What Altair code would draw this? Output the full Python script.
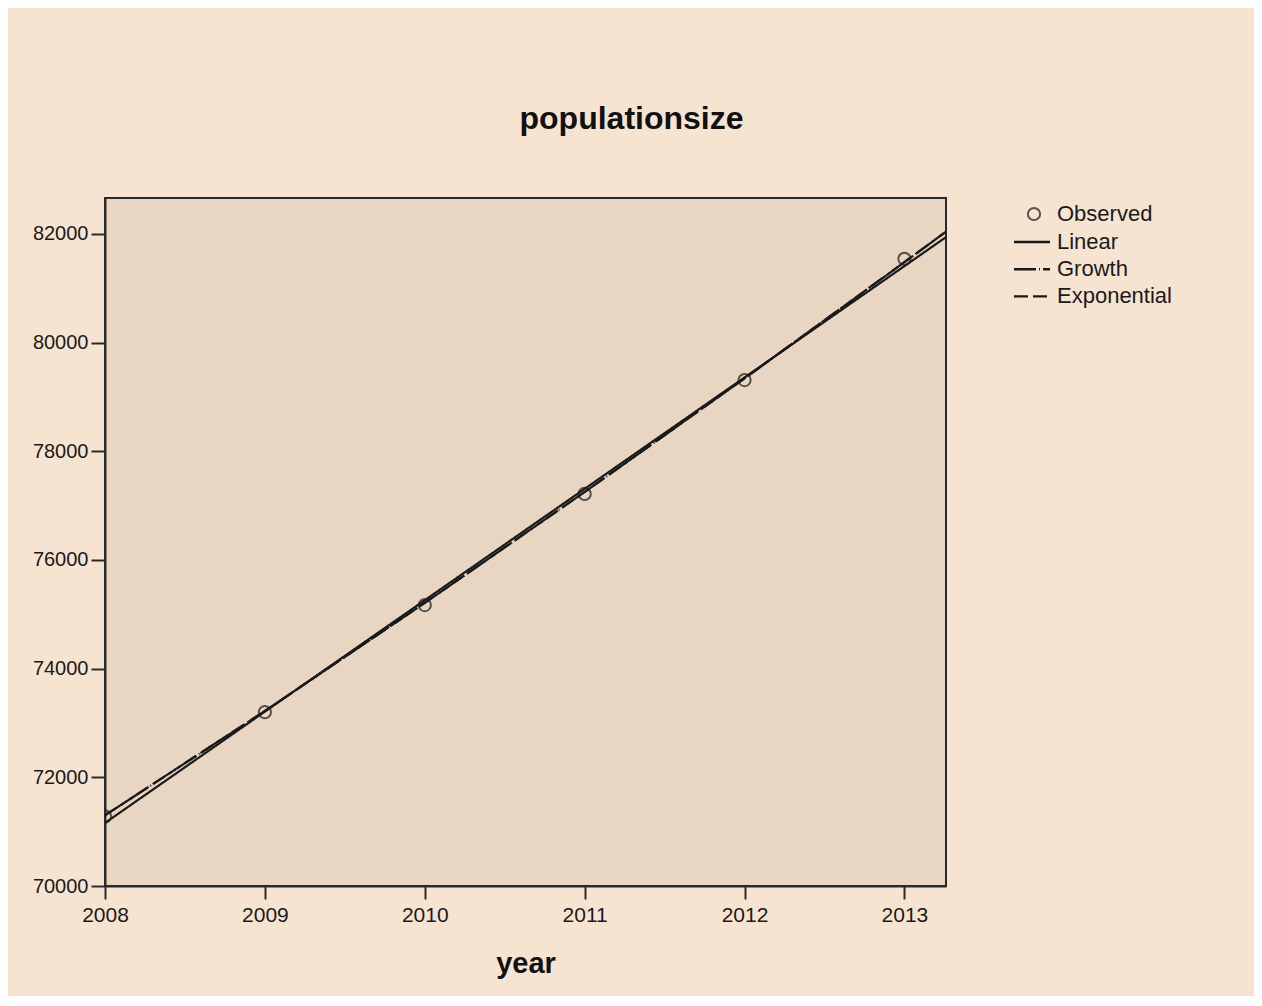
import altair as alt
import pandas as pd

# Observed values
years = [2008, 2009, 2010, 2011, 2012, 2013]
observed = [71280, 73200, 75170, 77215, 79310, 81540]

# Fitted curves
linear_x = [2008, 2013.26]
linear_y = [71160, 81940]
growth_x = [2008, 2009, 2010, 2011, 2012, 2013, 2013.26]
growth_y = [71300, 73220, 75210, 77250, 79340, 81480, 82040]
expo_x = growth_x
expo_y = growth_y

x_ticks = [2008, 2009, 2010, 2011, 2012, 2013]
y_ticks = [70000, 72000, 74000, 76000, 78000, 80000, 82000]

obs_df = pd.DataFrame({"year": years, "value": observed, "series": ["Observed"] * len(years)})
fit_rows = []
for name, xs, ys in [("Linear", linear_x, linear_y), ("Growth", growth_x, growth_y), ("Exponential", expo_x, expo_y)]:
    for x, y in zip(xs, ys):
        fit_rows.append({"year": x, "value": y, "series": name})
fit_df = pd.DataFrame(fit_rows)

FONT = "Liberation Sans"
INK = "#1a1a1a"

xscale = alt.Scale(domain=[2008, 2013.26], nice=False, zero=False)
yscale = alt.Scale(domain=[70000, 82660], nice=False, zero=False)

xaxis = alt.Axis(values=x_ticks, format="d", title="year", grid=False,
                 labelFontSize=21, labelColor=INK, labelFont=FONT, labelPadding=5,
                 tickSize=13, tickWidth=2, tickColor="#2a2a2a",
                 domainColor="#2a2a2a", domainWidth=2,
                 titleFontSize=29, titleFont=FONT, titleFontWeight="bold", titleColor="#111111",
                 titlePadding=24, labelFlush=False)
yaxis = alt.Axis(values=y_ticks, format="d", title=None, grid=False,
                 labelFontSize=20, labelColor=INK, labelFont=FONT, labelPadding=3,
                 tickSize=14, tickWidth=2, tickColor="#2a2a2a",
                 domainColor="#2a2a2a", domainWidth=2, labelFlush=False)

lines = alt.Chart(fit_df).mark_line(color=INK, strokeWidth=2.2, clip=True).encode(
    x=alt.X("year:Q", scale=xscale, axis=xaxis),
    y=alt.Y("value:Q", scale=yscale, axis=yaxis),
    strokeDash=alt.StrokeDash(
        "series:N",
        scale=alt.Scale(domain=["Linear", "Growth", "Exponential"],
                        range=[[1, 0], [22, 3, 1, 3], [14, 5]]),
        legend=alt.Legend(title=None, orient="none", legendX=916, legendY=33,
                          symbolType="M-2,0H2", symbolSize=324, symbolStrokeWidth=2.4,
                          symbolStrokeColor=INK, symbolFillColor="transparent",
                          labelFontSize=22, labelFont=FONT,
                          labelColor=INK, labelOffset=14, rowPadding=5.2, padding=0),
    ),
    detail="series:N",
)

points = alt.Chart(obs_df).mark_point(filled=False, color=INK, size=150, strokeWidth=2, clip=True).encode(
    x=alt.X("year:Q", scale=xscale, axis=xaxis),
    y=alt.Y("value:Q", scale=yscale, axis=yaxis),
    shape=alt.Shape(
        "series:N",
        scale=alt.Scale(domain=["Observed"], range=["circle"]),
        legend=alt.Legend(title=None, orient="none", legendX=918, legendY=5,
                          symbolSize=150, symbolStrokeWidth=2, symbolStrokeColor=INK,
                          symbolFillColor="transparent", labelFontSize=22, labelFont=FONT,
                          labelColor=INK, labelOffset=12, padding=0),
    ),
)

chart = alt.layer(lines, points).resolve_legend(shape="independent", strokeDash="independent").properties(
    width=841,
    height=688,
    autosize=alt.AutoSizeParams(type="none"),
    padding={"left": 97, "top": 190, "right": 308, "bottom": 110},
    background="#F6E4D1",
    title=alt.TitleParams("populationsize", fontSize=32, font=FONT, fontWeight="bold",
                          color="#111111", anchor="middle", dx=106, offset=62),
).configure_view(
    fill="#E8D6C3", stroke="#2a2a2a", strokeWidth=2
)

chart.save("out.html", embed_options={"renderer": "svg", "actions": False})
